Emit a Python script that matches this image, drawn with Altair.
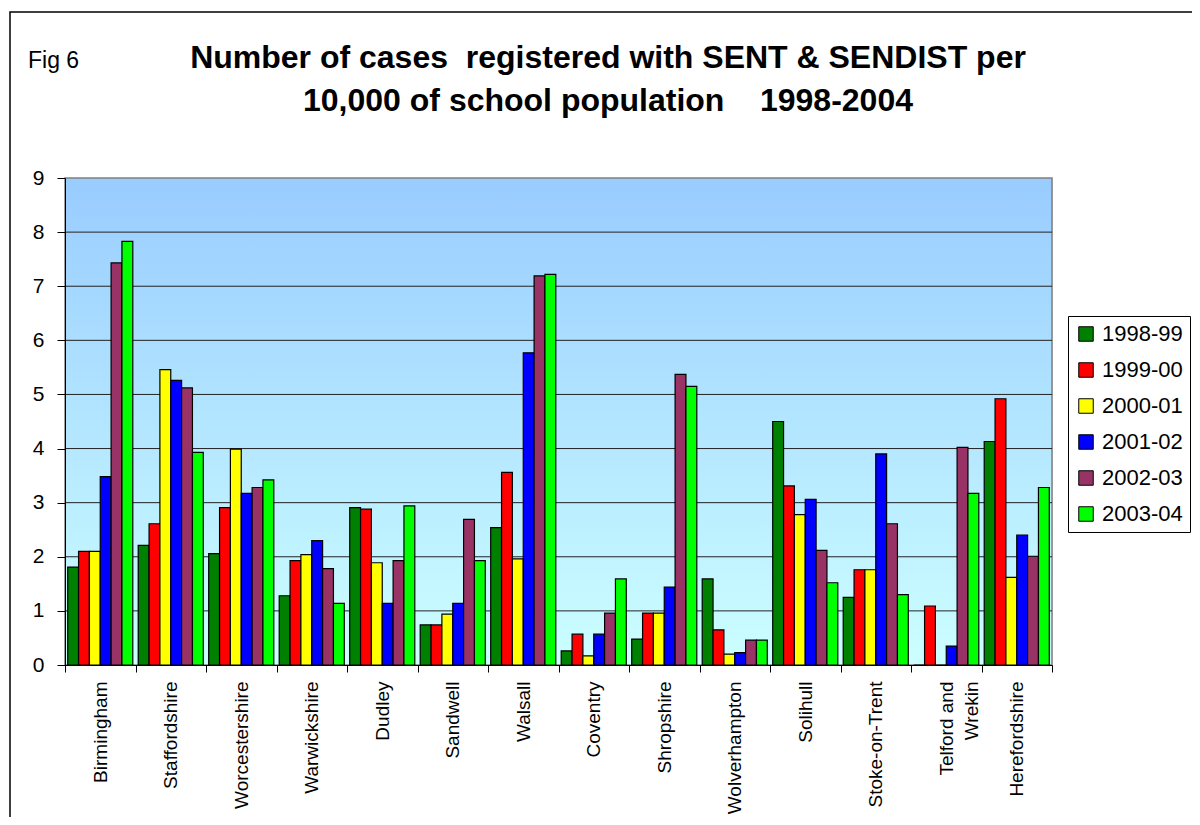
import altair as alt
import pandas as pd

districts = ["Birmingham", "Staffordshire", "Worcestershire", "Warwickshire", "Dudley",
             "Sandwell", "Walsall", "Coventry", "Shropshire", "Wolverhampton", "Solihull",
             "Stoke-on-Trent", "Telford and Wrekin", "Herefordshire"]
series = ["1998-99", "1999-00", "2000-01", "2001-02", "2002-03", "2003-04"]
colors = ["#008000", "#FF0000", "#FFFF00", "#0000FF", "#993366", "#00FF00"]

v1998 = [1.81, 2.21, 2.06, 1.28, 2.91, 0.74, 2.54, 0.26, 0.48, 1.59, 4.50, 1.25, 0.00, 4.13]
v1999 = [2.10, 2.61, 2.91, 1.93, 2.88, 0.74, 3.56, 0.57, 0.96, 0.65, 3.31, 1.76, 1.09, 4.92]
v2000 = [2.10, 5.46, 3.99, 2.04, 1.89, 0.94, 1.96, 0.17, 0.96, 0.20, 2.78, 1.76, 0.00, 1.62]
v2001 = [3.48, 5.26, 3.17, 2.30, 1.14, 1.14, 5.77, 0.57, 1.44, 0.23, 3.06, 3.90, 0.35, 2.40]
v2002 = [7.43, 5.12, 3.28, 1.78, 1.93, 2.69, 7.19, 0.96, 5.37, 0.46, 2.12, 2.61, 4.02, 2.01]
v2003 = [7.83, 3.93, 3.42, 1.14, 2.94, 1.93, 7.22, 1.59, 5.15, 0.46, 1.52, 1.30, 3.17, 3.28]
all_values = [v1998, v1999, v2000, v2001, v2002, v2003]

y_ticks = [0, 1, 2, 3, 4, 5, 6, 7, 8, 9]
grid_values = [1, 2, 3, 4, 5, 6, 7, 8]

title_line1 = "Number of cases \u00a0registered with SENT & SENDIST per"
title_line2 = "10,000 of school population \u00a0\u00a0\u00a01998-2004"
fig_label = "Fig 6"

rows = []
for s, vals in zip(series, all_values):
    for d, v in zip(districts, vals):
        rows.append({"District": d, "Year": s, "Value": v})
df = pd.DataFrame(rows)

W, H = 987, 487
FONT = "Liberation Sans"

yscale = alt.Scale(domain=[0, 9], nice=False, zero=True)
yaxis = alt.Axis(title=None, values=y_ticks, format="d", grid=False,
                 labelFontSize=21, labelFont=FONT, labelColor="black",
                 tickSize=8, tickColor="black", domainColor="black",
                 labelPadding=13, zindex=1)

background = alt.Chart(pd.DataFrame({"a": [0]})).mark_rect(
    color=alt.LinearGradient(
        gradient="linear", x1=0, y1=0, x2=0, y2=1,
        stops=[alt.GradientStop(offset=0, color="#99CCFF"),
               alt.GradientStop(offset=1, color="#CCFFFF")]),
    stroke="#808080", strokeWidth=1.5
).encode(x=alt.value(0), x2=alt.value(W), y=alt.value(0), y2=alt.value(H))

grid = alt.Chart(pd.DataFrame({"g": grid_values})).mark_rule(
    color="#222222", strokeWidth=1
).encode(y=alt.Y("g:Q", scale=yscale, axis=yaxis))

bars = alt.Chart(df).mark_bar(stroke="black", strokeWidth=1.2, opacity=1).encode(
    x=alt.X("District:N", sort=districts,
            scale=alt.Scale(paddingInner=0, paddingOuter=0),
            axis=alt.Axis(title=None, labelAngle=270, labelFontSize=19, labelFont=FONT,
                          labelColor="black", tickBand="extent", tickSize=7,
                          tickColor="black", domainColor="black", labelPadding=9,
                          labelLineHeight=25, zindex=1,
                          labelExpr="datum.label == 'Telford and Wrekin' ? ['Telford and', 'Wrekin\u00a0\u00a0\u00a0\u00a0'] : datum.label")),
    xOffset=alt.XOffset("Year:N", sort=series,
                        scale=alt.Scale(paddingInner=0, paddingOuter=0.25)),
    y=alt.Y("Value:Q", scale=yscale, axis=yaxis),
    color=alt.Color("Year:N", sort=series,
                    scale=alt.Scale(domain=series, range=colors),
                    legend=alt.Legend(title=None, orient="none", legendX=1003, legendY=138,
                                      labelFontSize=22, labelFont=FONT, labelColor="black",
                                      symbolType="square", symbolSize=210,
                                      symbolStrokeColor="black", symbolStrokeWidth=1,
                                      symbolOpacity=1, rowPadding=14, padding=7,
                                      labelOffset=5, strokeColor="black",
                                      fillColor="white")),
)

frame = alt.Chart(pd.DataFrame({"a": [0]})).mark_rect(
    fill=None, stroke="black", strokeWidth=1.5
).encode(x=alt.value(-55), x2=alt.value(1200), y=alt.value(-166), y2=alt.value(700))

t1 = alt.Chart(pd.DataFrame({"t": [title_line1]})).mark_text(
    font=FONT, fontSize=32, fontWeight="bold", align="center", baseline="alphabetic",
    color="black"
).encode(text="t:N", x=alt.value(543), y=alt.value(-110))

t2 = alt.Chart(pd.DataFrame({"t": [title_line2]})).mark_text(
    font=FONT, fontSize=32, fontWeight="bold", align="center", baseline="alphabetic",
    color="black"
).encode(text="t:N", x=alt.value(543), y=alt.value(-67))

t3 = alt.Chart(pd.DataFrame({"t": [fig_label]})).mark_text(
    font=FONT, fontSize=23, align="left", baseline="alphabetic", color="black"
).encode(text="t:N", x=alt.value(-37), y=alt.value(-110))

chart = alt.layer(background, grid, bars, frame, t1, t2, t3).properties(
    width=W, height=H,
    autosize=alt.AutoSizeParams(type="none"),
    padding={"left": 57, "top": 170, "right": 140, "bottom": 152},
).configure_view(stroke=None).configure(background="white")

chart.save("out.html", embed_options={"renderer": "svg", "actions": False})
